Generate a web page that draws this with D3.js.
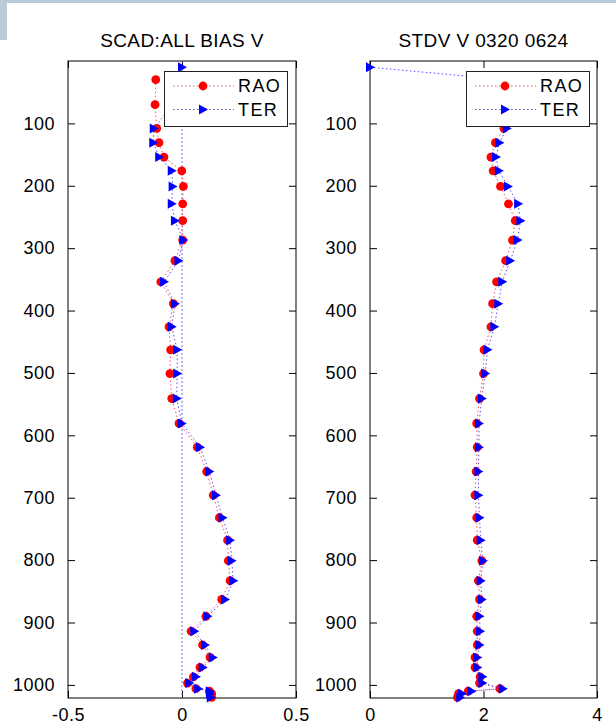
<!DOCTYPE html>
<html>
<head>
<meta charset="utf-8">
<script src="https://cdn.jsdelivr.net/npm/d3@7/dist/d3.min.js"></script>
<style>
  body { margin: 0; background: #fff; }
  svg { display: block; }
  text { font-family: "Liberation Sans", Arial, sans-serif; fill: #000; }
</style>
</head>
<body>
<div id="chart"></div>
<script>
// vertical levels (shared by both panels)
var levels = [10, 30, 70, 108, 131, 154, 176, 201, 229, 256, 287, 320, 354, 389, 426, 463, 501, 541, 581,
  619, 658, 696, 732, 768, 801, 833, 863, 890, 914, 936, 956, 972, 987, 997, 1006, 1010, 1014, 1020];

// bias of V
var raoBias = [null, -0.115, -0.118, -0.111, -0.101, -0.079, -0.001, 0.006, 0.003, 0.003, 0.003, -0.031, -0.093, -0.038,
  -0.057, -0.050, -0.053, -0.045, -0.013, 0.067, 0.108, 0.137, 0.164, 0.200, 0.203, 0.211, 0.174, 0.105, 0.040,
  0.090, 0.123, 0.079, 0.050, 0.024, 0.061, 0.120, 0.130, 0.130];
var terBias = [0.000, -0.020, -0.040, -0.124, -0.126, -0.100, -0.045, -0.041, -0.045, -0.031, 0.006, -0.016, -0.079,
  -0.031, -0.045, -0.021, -0.021, -0.023, -0.001, 0.079, 0.120, 0.149, 0.178, 0.211, 0.218, 0.225, 0.189, 0.112,
  0.054, 0.101, 0.135, 0.091, 0.061, 0.032, 0.071, 0.122, 0.123, 0.126];

// standard deviation of V
var raoStdv = [null, 2.33, 2.38, 2.36, 2.21, 2.13, 2.17, 2.30, 2.44, 2.56, 2.51, 2.39, 2.23, 2.16, 2.13, 2.01, 2.00,
  1.93, 1.88, 1.89, 1.87, 1.85, 1.88, 1.89, 1.97, 1.91, 1.93, 1.88, 1.89, 1.89, 1.85, 1.85, 1.94, 1.93, 2.29,
  1.73, 1.56, 1.54];
var terStdv = [0.00, 2.38, 2.44, 2.41, 2.28, 2.22, 2.27, 2.43, 2.61, 2.65, 2.60, 2.47, 2.33, 2.26, 2.19, 2.07, 2.03,
  1.97, 1.92, 1.92, 1.91, 1.91, 1.93, 1.95, 1.99, 1.95, 1.97, 1.93, 1.94, 1.93, 1.89, 1.89, 1.98, 1.98, 2.34,
  1.79, 1.62, 1.59];

var yTicks = [100, 200, 300, 400, 500, 600, 700, 800, 900, 1000];
var biasTicks = [-0.5, 0, 0.5];
var stdvTicks = [0, 2, 4];
var seriesNames = ["RAO", "TER"];

var width = 616, height = 728;
var plotTop = 61, plotBottom = 698;

var svg = d3.select("#chart").append("svg")
  .attr("width", width)
  .attr("height", height);

svg.append("rect").attr("width", width).attr("height", height).attr("fill", "#fff");
// bits of the desktop behind the screenshot
svg.append("rect").attr("x", 0).attr("y", 0).attr("width", width).attr("height", 3).attr("fill", "#b9cad8");
svg.append("rect").attr("x", 0).attr("y", 0).attr("width", 7).attr("height", 40).attr("fill", "#b9cad8");

var y = d3.scaleLinear().domain([0, 1021]).range([plotTop, plotBottom]);

// matlab style labels: plain hyphen, no thousands separator
function fmt(d) {
  return String(d);
}

function triangle() {
  return "M-4,-5L5,0L-4,5Z";
}

function drawPanel(opts) {
  var x = d3.scaleLinear().domain(opts.domain).range([opts.left, opts.right]);
  var g = svg.append("g");

  g.append("text")
    .attr("x", (opts.left + opts.right) / 2)
    .attr("y", 47)
    .attr("text-anchor", "middle")
    .style("font-size", "19px")
    .style("letter-spacing", "0.4px")
    .text(opts.title);

  // axes with inward ticks on all four sides
  g.append("g")
    .attr("transform", "translate(0," + plotBottom + ")")
    .call(d3.axisBottom(x).tickValues(opts.xTicks).tickSizeInner(-7).tickSizeOuter(0).tickPadding(10)
      .tickFormat(fmt));
  g.append("g")
    .attr("transform", "translate(0," + plotTop + ")")
    .call(d3.axisTop(x).tickValues(opts.xTicks).tickSizeInner(-7).tickSizeOuter(0).tickFormat(""));
  g.append("g")
    .attr("transform", "translate(" + opts.left + ",0)")
    .call(d3.axisLeft(y).tickValues(yTicks).tickSizeInner(-7).tickSizeOuter(0).tickPadding(13)
      .tickFormat(fmt));
  g.append("g")
    .attr("transform", "translate(" + opts.right + ",0)")
    .call(d3.axisRight(y).tickValues(yTicks).tickSizeInner(-7).tickSizeOuter(0).tickFormat(""));

  g.selectAll(".domain").remove();
  g.selectAll(".tick line").attr("stroke", "#000");
  g.selectAll(".tick text")
    .style("font-size", "18px")
    .style("letter-spacing", "0.5px")
    .attr("fill", "#000");

  g.append("rect")
    .attr("x", opts.left).attr("y", plotTop)
    .attr("width", opts.right - opts.left).attr("height", plotBottom - plotTop)
    .attr("fill", "none").attr("stroke", "#000");

  if (opts.zeroLine) {
    g.append("line")
      .attr("x1", x(0)).attr("x2", x(0))
      .attr("y1", plotTop).attr("y2", plotBottom)
      .attr("stroke", "#7070ff")
      .attr("stroke-dasharray", "2,2");
  }

  var line = d3.line()
    .defined(function(d) { return d.v != null; })
    .x(function(d) { return x(d.v); })
    .y(function(d) { return y(d.lev); });

  var rao = levels.map(function(l, i) { return {lev: l, v: opts.rao[i]}; });
  var ter = levels.map(function(l, i) { return {lev: l, v: opts.ter[i]}; });

  g.append("path")
    .datum(rao)
    .attr("d", line)
    .attr("fill", "none")
    .attr("stroke", "#ff5050")
    .attr("stroke-dasharray", "1.5,2.5");
  g.selectAll(".rao")
    .data(rao.filter(function(d) { return d.v != null; }))
    .enter().append("circle")
    .attr("class", "rao")
    .attr("cx", function(d) { return x(d.v); })
    .attr("cy", function(d) { return y(d.lev); })
    .attr("r", 4.4)
    .attr("fill", "#f00");

  g.append("path")
    .datum(ter)
    .attr("d", line)
    .attr("fill", "none")
    .attr("stroke", "#5050ff")
    .attr("stroke-dasharray", "1.5,2.5");
  g.selectAll(".ter")
    .data(ter.filter(function(d) { return d.v != null; }))
    .enter().append("path")
    .attr("class", "ter")
    .attr("d", triangle())
    .attr("transform", function(d) { return "translate(" + x(d.v) + "," + y(d.lev) + ")"; })
    .attr("fill", "#00f");

  // legend
  var lx = opts.legendX, ly = 71;
  var leg = g.append("g").attr("transform", "translate(" + lx + "," + ly + ")");
  leg.append("rect")
    .attr("x", 0.5).attr("y", 0.5)
    .attr("width", 123).attr("height", 55)
    .attr("fill", "#fff")
    .attr("stroke", "#222");
  seriesNames.forEach(function(name, i) {
    var ry = 15 + i * 23.5;
    leg.append("line")
      .attr("x1", 9).attr("x2", 70)
      .attr("y1", ry).attr("y2", ry)
      .attr("stroke", i == 0 ? "#ff5050" : "#5050ff")
      .attr("stroke-dasharray", "1.5,2.5");
    if (i == 0) {
      leg.append("circle").attr("cx", 39).attr("cy", ry).attr("r", 4.4).attr("fill", "#f00");
    } else {
      leg.append("path").attr("d", triangle()).attr("transform", "translate(39," + ry + ")").attr("fill", "#00f");
    }
    leg.append("text")
      .attr("x", 74)
      .attr("y", ry)
      .attr("dy", "0.36em")
      .style("font-size", "18px")
      .style("letter-spacing", "1.4px")
      .text(name);
  });
}

drawPanel({
  title: "SCAD:ALL BIAS V",
  domain: [-0.5, 0.5], left: 68, right: 296,
  xTicks: biasTicks, rao: raoBias, ter: terBias,
  zeroLine: true, legendX: 164
});

drawPanel({
  title: "STDV V 0320 0624",
  domain: [0, 4], left: 370, right: 597,
  xTicks: stdvTicks, rao: raoStdv, ter: terStdv,
  zeroLine: false, legendX: 466
});
</script>
</body>
</html>
